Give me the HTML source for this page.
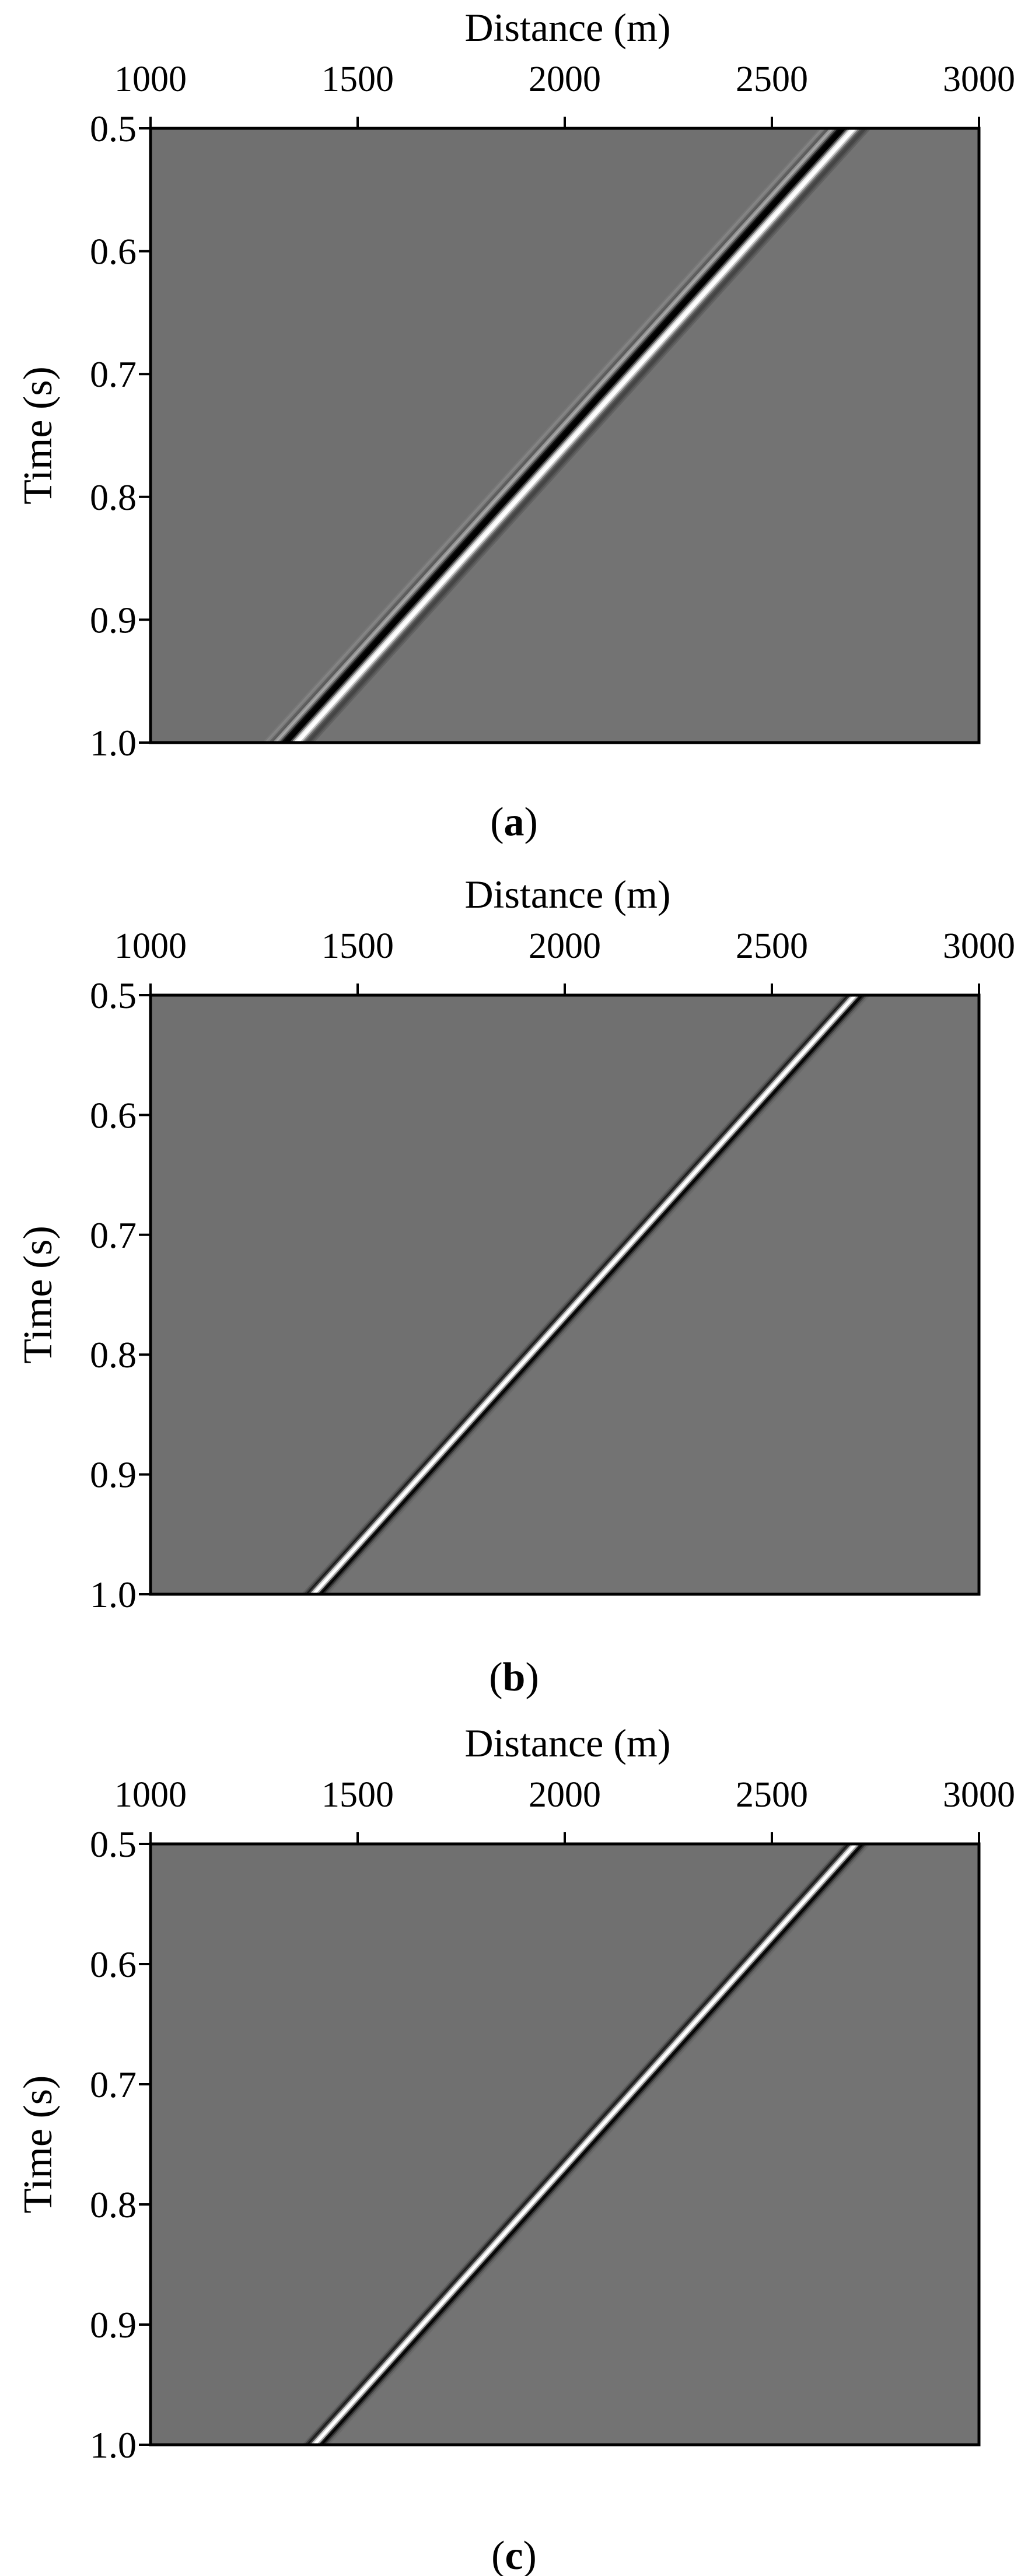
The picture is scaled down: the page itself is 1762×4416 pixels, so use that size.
<!DOCTYPE html>
<html><head><meta charset="utf-8"><style>
html,body{margin:0;padding:0;background:#fff;}
svg{display:block;}
text{font-family:"Liberation Serif",serif;fill:#000;}
</style></head><body>
<svg id="fig" width="1762" height="4416" viewBox="0 0 1762 4416" xmlns="http://www.w3.org/2000/svg"></svg>
<script>
// ---- data ----
const xTicks = [1000, 1500, 2000, 2500, 3000];
const yTicks = [0.5, 0.6, 0.7, 0.8, 0.9, 1.0];
const yTickLabels = ["0.5", "0.6", "0.7", "0.8", "0.9", "1.0"];
const panelNames = ["a", "b", "c"];
// event position (distance in m) at t=0.5 s and t=1.0 s
const eventTopX = [2677, 2699, 2700];
const eventBottomX = [1332, 1391, 1393];
// wavelet profile: offsets (m) from event centre and amplitudes (-1 black .. +1 white)
const offsetsA = [-60,-55,-50,-45,-40,-35,-30,-25,-20,-15,-10,-5,0,5,10,15,20,25,30,35,40,45,50,55,60];
const ampsA    = [0.05,0.15,0.1,-0.1,-0.15,0.25,0.4,0.15,-0.3,-0.7,-1,-1,-0.9,-0.3,0.4,0.9,1,1,0.6,0.1,-0.2,-0.3,-0.3,-0.2,-0.1];
const offsetsB = [-30,-25,-20,-15,-10,-5,0,5,10,15,20,25,30,35];
const ampsB    = [0,-0.1,-0.3,-0.6,-0.3,0.6,1,1,0.4,-0.6,-0.9,-0.5,-0.2,-0.05];
const offsetsC = [-30,-25,-20,-15,-10,-5,0,5,10,15,20,25,30,35];
const ampsC    = [0,-0.1,-0.35,-0.6,-0.3,0.6,1,1,0.4,-0.6,-0.9,-0.5,-0.2,-0.05];
const offsets = [offsetsA, offsetsB, offsetsC];
const amps = [ampsA, ampsB, ampsC];

// ---- layout ----
const L = 258, R = 1678;
const tops = [220, 1706, 3161];
const bottoms = [1273, 2733, 4191];
const capY = [1432, 2898, 4404];
const NS = "http://www.w3.org/2000/svg";
const svg = document.getElementById("fig");
function mk(tag, attrs, parent) {
  const e = document.createElementNS(NS, tag);
  for (const k in attrs) e.setAttribute(k, attrs[k]);
  (parent || svg).appendChild(e);
  return e;
}
const xScale = d => L + (d - 1000) / 2000 * (R - L);
const defs = mk("defs", {});

panelNames.forEach((p, i) => {
  const T = tops[i], B = bottoms[i];
  const yScale = t => T + (t - 0.5) / 0.5 * (B - T);
  const g = mk("g", {});
  
  
  const cp = mk("clipPath", {id: "clip" + i}, defs);
  mk("rect", {x: L, y: T, width: R - L, height: B - T}, cp);
  const bg = mk("rect", {x: L, y: T, width: R - L, height: B - T, fill: "#707070"}, g);
  
  
  const ev = mk("g", {"clip-path": "url(#clip" + i + ")"}, g);
  
  
  const rz = mk("polygon", {points:
    `${xScale(eventTopX[i]+40)},${yScale(0.5)} ${R+50},${yScale(0.5)} ${R+50},${yScale(1.0)} ${xScale(eventBottomX[i]+40)},${yScale(1.0)}`,
    fill: "#737373"}, ev);
  
  
  const offs = offsets[i], am = amps[i];
  offs.forEach((o, k) => {
    const a = am[k];
    const v = Math.max(0, Math.min(255, Math.round(112 + a * 143)));
    const c = `rgb(${v},${v},${v})`;
    const w = 5.6;
    const x0t = xScale(eventTopX[i] + o - 2.5), x1t = x0t + w * (R - L) / 2000;
    const x0b = xScale(eventBottomX[i] + o - 2.5), x1b = x0b + w * (R - L) / 2000;
    const poly = mk("polygon", {points: `${x0t},${yScale(0.5)} ${x1t},${yScale(0.5)} ${x1b},${yScale(1.0)} ${x0b},${yScale(1.0)}`, fill: c}, ev);
    
    
  });
  const fr = mk("rect", {x: L, y: T, width: R - L, height: B - T, fill: "none", stroke: "#000", "stroke-width": 5}, g);
  
  
  xTicks.forEach(d => {
    const x = xScale(d);
    const tk = mk("line", {x1: x, x2: x, y1: T, y2: T - 20, stroke: "#000", "stroke-width": 4}, g);
    
    
    const tl = mk("text", {x: x, y: T - 64, "font-size": 62, "text-anchor": "middle"}, g);
    tl.textContent = String(d);
    
    
  });
  yTicks.forEach((t, k) => {
    const y = yScale(t);
    const tk = mk("line", {x1: L, x2: L - 20, y1: y, y2: y, stroke: "#000", "stroke-width": 4}, g);
    
    
    const tl = mk("text", {x: L - 24, y: y + 22, "font-size": 64, "text-anchor": "end"}, g);
    tl.textContent = yTickLabels[k];
    
    
  });
  const xt = mk("text", {x: (L + R) / 2 + 5, y: T - 150, "font-size": 68, "text-anchor": "middle"}, g);
  xt.textContent = "Distance (m)";
  
  
  const ym = (T + B) / 2;
  const yt = mk("text", {x: 0, y: 0, "font-size": 70, "text-anchor": "middle", transform: `translate(88,${ym}) rotate(-90)`}, g);
  yt.textContent = "Time (s)";
  
  
  const cap = mk("text", {x: 881, y: capY[i], "font-size": 70, "text-anchor": "middle"}, g);
  
  
  const s1 = mk("tspan", {}, cap); s1.textContent = "(";
  const s2 = mk("tspan", {"font-weight": "bold"}, cap); s2.textContent = p;
  const s3 = mk("tspan", {}, cap); s3.textContent = ")";
});
</script>
</body></html>
